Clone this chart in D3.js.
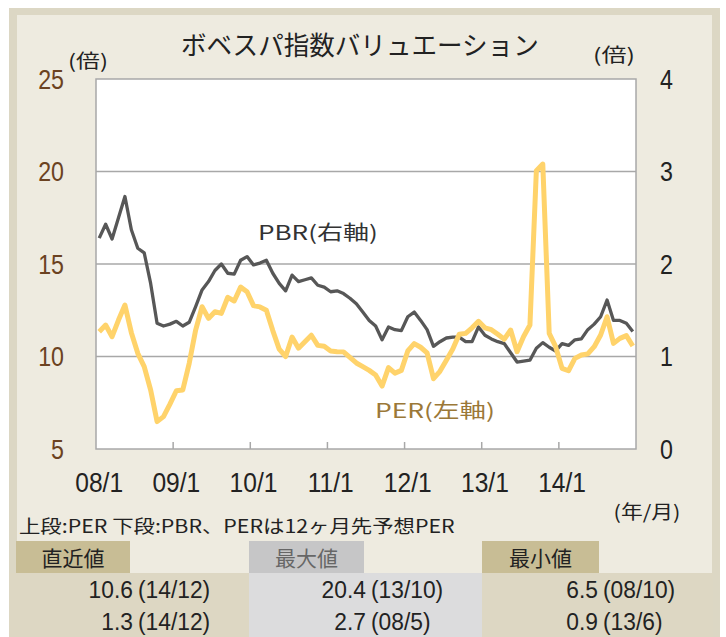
<!DOCTYPE html>
<html><head><meta charset="utf-8">
<script src="https://cdn.jsdelivr.net/npm/d3@7"></script>
<style>html,body{margin:0;padding:0;background:#fff;}svg{display:block;}</style>
</head><body><svg id="c" width="726" height="637"></svg>
<script>
// ---- data (monthly, 2008/1 .. 2014/12) ----
const months = d3.range(84).map(i => `${String(8 + Math.floor(i / 12)).padStart(2, "0")}/${(i % 12) + 1}`);
const perValues = [11.34,11.70,11.07,11.97,12.78,11.29,10.17,9.45,8.19,6.48,6.75,7.43,
  8.15,8.19,9.63,11.43,12.69,12.06,12.42,12.33,13.2,13.0,13.75,13.5,
  12.75,12.68,12.5,11.4,10.4,10.0,11.05,10.45,10.8,11.15,10.6,10.55,
  10.3,10.26,10.25,9.95,9.65,9.45,9.25,9.0,8.4,9.4,9.1,9.25,
  10.3,10.7,10.5,10.2,8.8,9.2,9.8,10.4,11.2,11.25,11.55,11.9,
  11.55,11.45,11.2,10.93,11.43,10.26,11.07,11.70,20.04,20.4,11.25,10.53,
  9.36,9.23,9.9,10.08,10.14,10.53,11.16,12.15,10.71,10.98,11.13,10.57];
const pbrValues = [2.28,2.43,2.27,2.50,2.73,2.37,2.17,2.12,1.79,1.36,1.33,1.35,
  1.38,1.33,1.37,1.54,1.72,1.81,1.93,2.00,1.90,1.89,2.04,2.08,
  1.99,2.01,2.04,1.90,1.79,1.71,1.88,1.81,1.83,1.85,1.77,1.75,
  1.70,1.71,1.68,1.63,1.57,1.48,1.39,1.33,1.18,1.32,1.29,1.28,
  1.43,1.48,1.39,1.29,1.11,1.16,1.20,1.21,1.21,1.16,1.16,1.32,
  1.23,1.19,1.16,1.14,1.04,0.94,0.95,0.96,1.09,1.15,1.10,1.06,
  1.14,1.12,1.18,1.19,1.29,1.35,1.43,1.61,1.39,1.39,1.36,1.27];
const xTickLabels = ["08/1","09/1","10/1","11/1","12/1","13/1","14/1"];
const leftTicks = [5,10,15,20,25];
const rightTicks = [0,1,2,3,4];
const gridTicks = [10,15,20];
const title = "ボベスパ指数バリュエーション";
const note = "上段:PER 下段:PBR、PERは12ヶ月先予想PER";
const tableHeaders = ["直近値","最大値","最小値"];
const tableNumbers = [["10.6","20.4","6.5"],["1.3","2.7","0.9"]];
const tableDates = [["(14/12)","(13/10)","(08/10)"],["(14/12)","(08/5)","(13/6)"]];

// ---- drawing ----
const svg = d3.select("#c");
const NUM = "'Liberation Sans', Arial, sans-serif";
const JP = "'Noto Sans CJK JP', 'Noto Sans', sans-serif";

function txt(g, s, x, y, o) {
  const t = g.append("text").attr("x", 0).attr("y", 0)
    .attr("font-family", o.font || NUM).attr("font-size", o.size)
    .attr("fill", o.color || "#222").text(s);
  let sx = o.sx || 1;
  const w = t.node().getComputedTextLength();
  if (o.width) sx = o.width / w;
  const ww = w * sx;
  let x0 = x;
  if (o.anchor === "middle") x0 = x - ww / 2;
  else if (o.anchor === "end") x0 = x - ww;
  t.attr("transform", `translate(${x0},${y}) scale(${sx},1)`);
  return t;
}

// frame
svg.append("rect").attr("x", 9).attr("y", 8).attr("width", 711).attr("height", 640).attr("fill", "#dcd7c4");
svg.append("rect").attr("x", 17).attr("y", 15).attr("width", 695).attr("height", 630).attr("fill", "#eeebe0");

const X0 = 96, X1 = 636, Y0 = 79, Y1 = 449;
const x = d3.scaleLinear().domain([0, 84]).range([X0, X1]);
const yL = d3.scaleLinear().domain([5, 25]).range([Y1, Y0]);
const yR = d3.scaleLinear().domain([0, 4]).range([Y1, Y0]);

svg.append("rect").attr("x", X0).attr("y", Y0).attr("width", X1 - X0).attr("height", Y1 - Y0)
  .attr("fill", "#fff").attr("stroke", "#a8a8a8").attr("stroke-width", 1.5);

svg.append("g").selectAll("line").data(gridTicks).join("line")
  .attr("x1", X0).attr("x2", X1).attr("y1", d => yL(d)).attr("y2", d => yL(d))
  .attr("stroke", "#a8a8a8").attr("stroke-width", 1.5);

// x ticks at year boundaries
svg.append("g").selectAll("line").data(d3.range(1, 7)).join("line")
  .attr("x1", d => x(d * 12)).attr("x2", d => x(d * 12)).attr("y1", Y1).attr("y2", Y1 - 7)
  .attr("stroke", "#a8a8a8").attr("stroke-width", 1.5);

// lines
const per = perValues.map((v, i) => [i, v]);
const pbr = pbrValues.map((v, i) => [i, v]);
svg.append("path").datum(pbr).attr("fill", "none").attr("stroke", "#575757").attr("stroke-width", 3.3)
  .attr("stroke-linejoin", "round")
  .attr("d", d3.line().x(d => x(d[0] + 0.5)).y(d => yR(d[1])));
svg.append("path").datum(per).attr("fill", "none").attr("stroke", "#ffd36b").attr("stroke-width", 5)
  .attr("stroke-linejoin", "round")
  .attr("d", d3.line().x(d => x(d[0] + 0.5)).y(d => yL(d[1])));

// axes labels
leftTicks.forEach(v => txt(svg, String(v), 64, yL(v) + 9.5, {size: 27, sx: 0.86, anchor: "end", color: "#6b4221"}));
rightTicks.forEach(v => txt(svg, String(v), 660, yR(v) + 9.5, {size: 27, sx: 0.86, color: "#222"}));
xTickLabels.forEach((s, k) => txt(svg, s, x(k * 12 + 0.5), 492, {size: 27, sx: 0.91, anchor: "middle"}));

txt(svg, title, 360, 55, {font: JP, size: 26, width: 358, anchor: "middle", color: "#222"});
txt(svg, "(倍)", 88, 68, {font: JP, size: 19, width: 40, anchor: "middle"});
txt(svg, "(倍)", 614, 62, {font: JP, size: 19, width: 42, anchor: "middle"});
txt(svg, "(年/月)", 647, 519, {font: JP, size: 19, width: 67, anchor: "middle"});
txt(svg, note, 19, 533, {font: JP, size: 18, width: 436});

txt(svg, "PBR(右軸)", 318, 240, {font: JP, size: 20, width: 120, anchor: "middle", color: "#333"});
txt(svg, "PER(左軸)", 435, 418, {font: JP, size: 20, width: 120, anchor: "middle", color: "#9b7838"});

// table
const colX = [9, 249, 482, 713];
const boxX = [16, 249, 482];
const boxW = [114, 115, 117];
const colBg = ["#ddd7c3", "#dcdcdd", "#ddd7c3"];
const hdrBg = ["#c8bd95", "#c6c6c7", "#c8bd95"];
const hdrColor = ["#222", "#666", "#222"];
const numRight = [133, 366, 598];
tableHeaders.forEach((h, c) => {
  svg.append("rect").attr("x", colX[c]).attr("y", 573).attr("width", colX[c + 1] - colX[c]).attr("height", 70).attr("fill", colBg[c]);
  svg.append("rect").attr("x", boxX[c]).attr("y", 541).attr("width", boxW[c]).attr("height", 32).attr("fill", hdrBg[c]);
  txt(svg, h, boxX[c] + boxW[c] / 2, 566, {font: JP, size: 21, sx: 1, anchor: "middle", color: hdrColor[c]});
});
tableNumbers.forEach((row, r) => row.forEach((n, c) => {
  const yb = 598 + r * 32;
  txt(svg, n, numRight[c], yb, {size: 24, sx: 0.95, anchor: "end"});
  txt(svg, tableDates[r][c], numRight[c] + 5, yb, {size: 24, sx: 0.95});
}));
</script></body></html>
